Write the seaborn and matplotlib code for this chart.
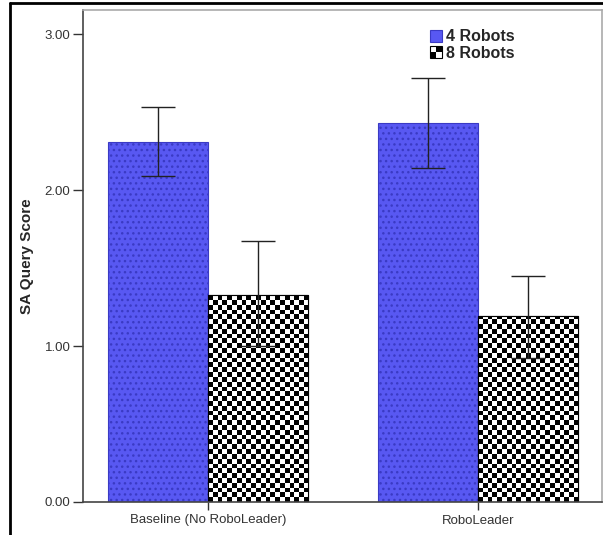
import numpy as np
import pandas as pd
import matplotlib
matplotlib.use("Agg")
import matplotlib.pyplot as plt
from matplotlib.patches import Rectangle
from matplotlib.legend_handler import HandlerBase
from matplotlib.lines import Line2D
import seaborn as sns

# Mean SA query scores with error bar limits
conditions = ["Baseline (No RoboLeader)", "RoboLeader"]
groups = ["4 Robots", "8 Robots"]
means_4 = [2.31, 2.43]
means_8 = [1.33, 1.19]
lower_4 = [2.09, 2.14]
upper_4 = [2.53, 2.72]
lower_8 = [1.00, 0.92]
upper_8 = [1.67, 1.45]
yticks = [0.0, 1.0, 2.0, 3.0]
ytick_labels = ["0.00", "1.00", "2.00", "3.00"]

df = pd.DataFrame({
    "condition": conditions * 2,
    "robots": [groups[0]] * 2 + [groups[1]] * 2,
    "score": means_4 + means_8,
    "low": lower_4 + lower_8,
    "high": upper_4 + upper_8,
})

BLUE = "#5858F2"
BLUE_EDGE = "#3a3ac4"
sns.set_theme(style="white")
plt.rcParams["font.family"] = ["Liberation Sans", "DejaVu Sans"]

fig = plt.figure(figsize=(6.03, 5.35), dpi=100)
ax = fig.add_axes([83 / 603, 33 / 535, 519 / 603, 492 / 535])

sns.barplot(data=df, x="condition", y="score", hue="robots",
            palette=[BLUE, "white"], width=0.74, errorbar=None,
            saturation=1, ax=ax, legend=False)

ax.set_xlim(-0.463, 1.459)
ax.set_ylim(0, 3.154)

# Style the two hue groups
blue_bars = ax.containers[0]
check_bars = ax.containers[1]
for p in blue_bars:
    p.set_edgecolor(BLUE_EDGE)
    p.set_linewidth(0.8)
    p.set_hatch("...")
for p in check_bars:
    p.set_edgecolor("black")
    p.set_linewidth(0.8)
    p.set_facecolor("white")

# Checkerboard fill clipped to each 8-robot bar
cell_px = 4.8
px_per_x = 519 / (1.459 + 0.463)
px_per_y = 492 / 3.154
for p in check_bars:
    x0, w = p.get_x(), p.get_width()
    h = p.get_height()
    nx = int(np.ceil(w * px_per_x / cell_px))
    ny = int(np.ceil(h * px_per_y / cell_px))
    board = (np.add.outer(np.arange(ny), np.arange(nx)) % 2).astype(float)
    top = ny * cell_px / px_per_y
    im = ax.imshow(board, cmap="gray", vmin=0, vmax=1, interpolation="nearest",
                   extent=(x0, x0 + nx * cell_px / px_per_x, 0, top),
                   origin="lower", aspect="auto", zorder=p.get_zorder())
    im.set_clip_path(p)
    outline = Rectangle((x0, 0), w, h, fill=False, edgecolor="black",
                        linewidth=0.8, zorder=p.get_zorder() + 0.1)
    ax.add_patch(outline)
ax.set_xlim(-0.463, 1.459)
ax.set_ylim(0, 3.154)

# Error bars from the stored limits
for bars, lows, highs, means in [(blue_bars, lower_4, upper_4, means_4),
                                 (check_bars, lower_8, upper_8, means_8)]:
    xs = [p.get_x() + p.get_width() / 2 for p in bars]
    m = np.array(means)
    yerr = np.vstack([m - np.array(lows), np.array(highs) - m])
    ax.errorbar(xs, m, yerr=yerr, fmt="none", ecolor="#222222",
                elinewidth=1.0, capsize=12, capthick=1.0, zorder=5)

# Axes styling
ax.set_yticks(yticks)
ax.set_yticklabels(ytick_labels)
ax.set_xlabel("")
ax.set_ylabel("SA Query Score", fontsize=11, fontweight="bold", labelpad=8)
ax.tick_params(axis="both", which="both", direction="out", length=7,
               width=1, color="#333333", labelsize=9.5, labelcolor="#333333",
               left=True, bottom=True, pad=2)
ax.tick_params(axis="x", length=6, pad=3)
for side in ["left", "bottom"]:
    ax.spines[side].set_color("#444444")
    ax.spines[side].set_linewidth(1.2)
for side in ["top", "right"]:
    ax.spines[side].set_color("#aaaaaa")
    ax.spines[side].set_linewidth(1.2)
ax.grid(False)


class CheckerHandler(HandlerBase):
    def create_artists(self, legend, orig_handle, xdescent, ydescent,
                       width, height, fontsize, trans):
        arts = [Rectangle((-xdescent, -ydescent), width, height,
                          facecolor="white", edgecolor="black", lw=0.8,
                          transform=trans)]
        cw, ch = width / 2, height / 2
        for i in range(2):
            for j in range(2):
                if (i + j) % 2 == 0:
                    arts.append(Rectangle((-xdescent + i * cw, -ydescent + j * ch),
                                          cw, ch, facecolor="black",
                                          edgecolor="none", transform=trans))
        return arts


blue_handle = Rectangle((0, 0), 1, 1, facecolor=BLUE, edgecolor=BLUE_EDGE, lw=0.8)
check_handle = Rectangle((0, 0), 1, 1, facecolor="white", edgecolor="black")
leg = ax.legend([blue_handle, check_handle], groups,
                handler_map={check_handle: CheckerHandler()},
                loc="upper left", bbox_to_anchor=(0.64, 0.99),
                frameon=False, handlelength=0.75, handleheight=0.75,
                handletextpad=0.3, labelspacing=0.1,
                prop={"weight": "bold", "size": 11.5})

# Outer frame
fig.add_artist(Line2D([10 / 603, 10 / 603], [0, 1 - 3 / 535],
                      transform=fig.transFigure, color="black", lw=2))
fig.add_artist(Line2D([10 / 603, 1], [1 - 3 / 535, 1 - 3 / 535],
                      transform=fig.transFigure, color="black", lw=2))

fig.savefig("out.png", dpi=100)
